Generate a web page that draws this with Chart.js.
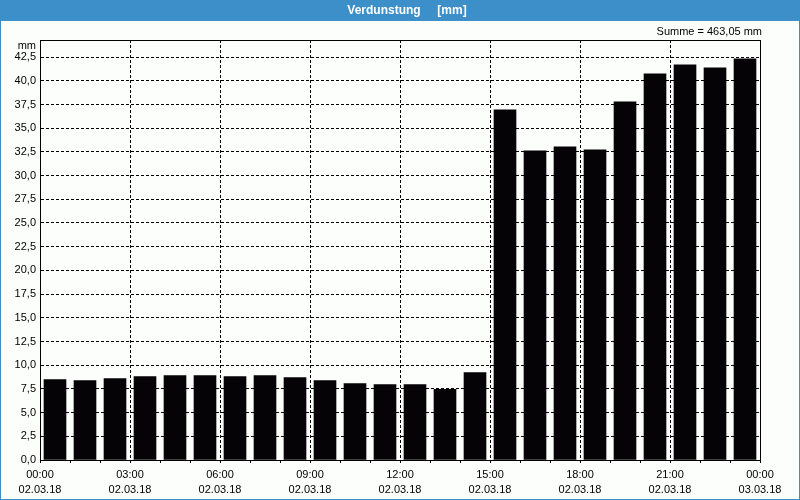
<!DOCTYPE html>
<html>
<head>
<meta charset="utf-8">
<script src="https://cdn.jsdelivr.net/npm/chart.js@4/dist/chart.umd.min.js"></script>
<style>
  html, body { margin: 0; padding: 0; background: #fcfefc; }
  canvas { display: block; }
</style>
</head>
<body>
<canvas id="c" width="800" height="500"></canvas>
<script>
// ---- data ----
const hours = [0,1,2,3,4,5,6,7,8,9,10,11,12,13,14,15,16,17,18,19,20,21,22,23];
const values = [8.48,8.37,8.58,8.79,8.90,8.90,8.79,8.90,8.69,8.37,8.05,7.95,7.95,7.46,9.21,
                36.94,32.61,33.03,32.72,37.78,40.74,41.69,41.37,42.32];
const xTickTimes = ['00:00','03:00','06:00','09:00','12:00','15:00','18:00','21:00','00:00'];
const xTickDates = ['02.03.18','02.03.18','02.03.18','02.03.18','02.03.18','02.03.18','02.03.18','02.03.18','03.03.18'];
const yTicks = [0,2.5,5,7.5,10,12.5,15,17.5,20,22.5,25,27.5,30,32.5,35,37.5,40,42.5];
const titleText = 'Verdunstung     [mm]';
const sumText = 'Summe = 463,05 mm';
const unitText = 'mm';

const FONT = 'Liberation Sans, Arial, sans-serif';
const BLUE = '#3c8fc8';

const decor = {
  id: 'decor',
  beforeDraw(chart) {
    const ctx = chart.ctx;
    ctx.save();
    ctx.fillStyle = BLUE;
    ctx.fillRect(0, 0, 800, 21);
    ctx.strokeStyle = BLUE;
    ctx.lineWidth = 1;
    ctx.strokeRect(0.5, 0.5, 799, 499);
    ctx.fillStyle = '#fcfefc';
    ctx.fillRect(1, 21, 798, 478);
    ctx.restore();
  },
  afterDraw(chart) {
    const ctx = chart.ctx;
    const a = chart.chartArea;
    ctx.save();
    ctx.strokeStyle = '#000';
    ctx.lineWidth = 1;
    ctx.strokeRect(Math.round(a.left) + 0.5, Math.round(a.top) + 0.5,
                   Math.round(a.right - a.left), Math.round(a.bottom - a.top));
    ctx.fillStyle = '#ffffff';
    ctx.font = 'bold 12px ' + FONT;
    ctx.textAlign = 'center';
    ctx.textBaseline = 'middle';
    ctx.fillText(titleText, 407, 10.5);
    ctx.fillStyle = '#000';
    ctx.font = '11px ' + FONT;
    ctx.textAlign = 'right';
    ctx.fillText(sumText, 762, 32);
    ctx.fillText(unitText, 36, 46);
    ctx.restore();
  }
};

new Chart(document.getElementById('c'), {
  type: 'bar',
  data: {
    datasets: [{
      data: hours.map((h, i) => ({ x: h + 0.5, y: values[i] })),
      backgroundColor: '#050305',
      borderWidth: 0,
      barThickness: 22
    }]
  },
  options: {
    responsive: false,
    animation: false,
    devicePixelRatio: 1,
    layout: { padding: { left: 0, top: 40, right: 40, bottom: 0 } },
    plugins: { legend: { display: false }, tooltip: { enabled: false }, title: { display: false } },
    scales: {
      x: {
        type: 'linear',
        min: 0, max: 24,
        offset: false,
        afterFit: s => { s.height = 40; },
        afterBuildTicks: s => { s.ticks = hours.concat([24]).map(v => ({ value: v })); },
        grid: {
          offset: false,
          color: c => (c.tick && c.tick.value % 3 === 0) ? '#000' : 'rgba(0,0,0,0)',
          tickColor: '#000',
          tickLength: 3,
          lineWidth: 1
        },
        border: { display: true, color: '#000', dash: [3, 2] },
        ticks: {
          autoSkip: false, maxRotation: 0, minRotation: 0,
          padding: 4,
          color: '#000',
          font: { family: FONT, size: 11, lineHeight: 15 / 11 },
          callback: v => (v % 3 === 0) ? [xTickTimes[v / 3], xTickDates[v / 3]] : ''
        }
      },
      y: {
        min: 0, max: 44.3,
        afterFit: s => { s.width = 40; },
        afterBuildTicks: s => { s.ticks = yTicks.map(v => ({ value: v })); },
        grid: { color: '#000', drawTicks: false, lineWidth: 1 },
        border: { display: true, color: '#000', dash: [3, 2] },
        ticks: {
          padding: 4,
          color: '#000',
          font: { family: FONT, size: 11 },
          callback: v => v.toFixed(1).replace('.', ',')
        }
      }
    }
  },
  plugins: [decor]
});
</script>
</body>
</html>
